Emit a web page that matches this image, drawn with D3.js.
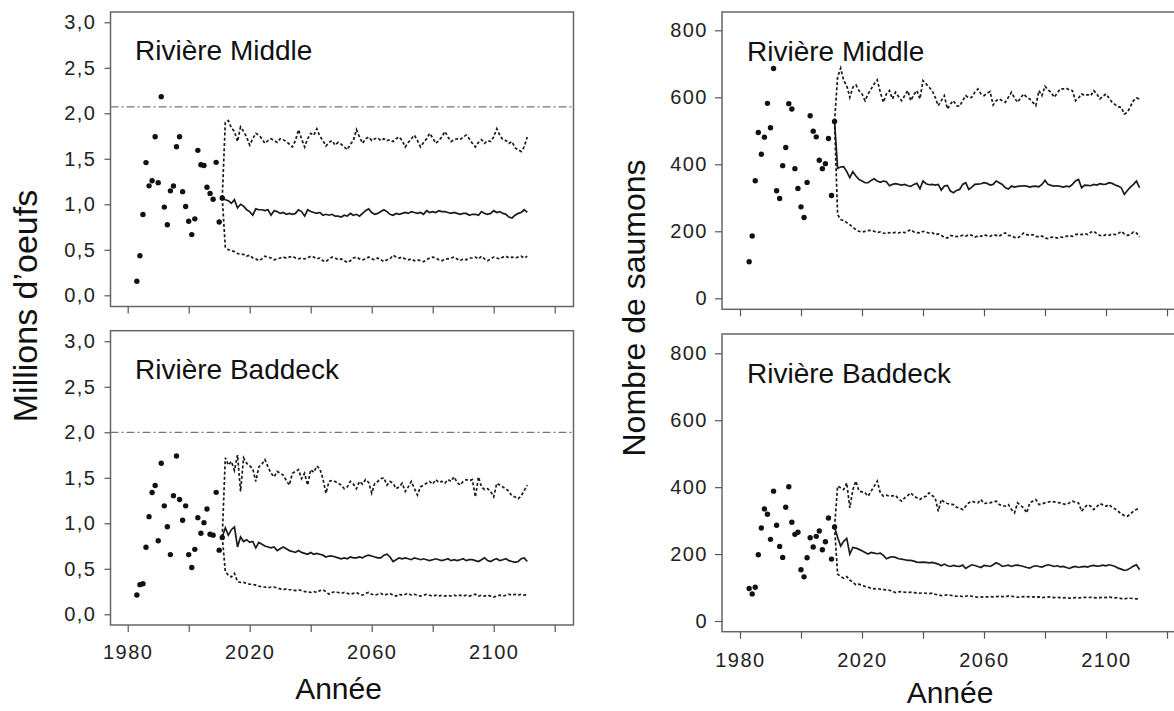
<!DOCTYPE html>
<html><head><meta charset="utf-8">
<script src="https://cdn.jsdelivr.net/npm/d3@7"></script>
<style>
body{margin:0;background:#fff}
svg{display:block;background:#fff}
.tick text{font-family:"Liberation Sans Narrow","Arial Narrow","Liberation Sans",Arial,sans-serif;font-size:20px;fill:#222;letter-spacing:1.5px}
.tick line{stroke:#555;stroke-width:1.2}
.ptitle{font-family:"Liberation Sans",Arial,sans-serif;font-size:28px;fill:#111}
.atitle{font-family:"Liberation Sans",Arial,sans-serif;font-size:30px;fill:#111}
</style></head><body>
<svg id="c" width="1174" height="711"></svg>
<script>
// ---------------- data ----------------
const obsStartYear = 1983;
const projStartYear = 2011;
const xTickValues = [1980, 2000, 2020, 2040, 2060, 2080, 2100, 2120];
const xTickLabels = ["1980", "", "2020", "", "2060", "", "2100", ""];
const eggTicks = [0, 0.5, 1, 1.5, 2, 2.5, 3];
const countTicks = [0, 200, 400, 600, 800];
const panelTitles = ["Rivière Middle", "Rivière Baddeck", "Rivière Middle", "Rivière Baddeck"];
const xTitle = "Année";
const yTitleEggs = "Millions d’oeufs";
const yTitleCounts = "Nombre de saumons";

const middleEggsRef = 2.07;
const baddeckEggsRef = 2.0;

// observed (1983-2011)
const middleEggsObs = [0.155,0.434,0.888,1.458,1.203,1.258,1.742,1.236,2.183,0.969,0.775,1.148,1.201,1.632,1.742,1.139,0.976,0.813,0.667,0.840,1.593,1.435,1.426,1.188,1.120,1.055,1.461,0.806,1.070];
const baddeckEggsObs = [0.212,0.326,0.336,0.736,1.073,1.339,1.415,0.808,1.660,1.192,0.962,0.656,1.304,1.740,1.262,1.033,1.192,0.656,0.514,0.714,1.062,0.890,1.007,1.157,0.880,0.870,1.340,0.705,0.844];
const middleCountObs = [109,186,351,495,430,481,582,509,686,321,298,396,450,581,565,387,328,273,241,346,545,499,482,412,387,402,477,307,528];
const baddeckCountObs = [97,81,101,198,278,335,319,244,388,286,223,190,340,401,295,259,265,153,132,189,249,221,253,269,213,237,308,185,281];

// projections (2011-2111)
const middleEggsMed = [1.07,1.05,1.04,1.01,1.05,0.96,1.00,0.98,0.94,0.92,
 0.88,0.95,0.94,0.94,0.93,0.94,0.88,0.93,0.92,0.90,
 0.91,0.89,0.90,0.89,0.90,0.94,0.92,0.87,0.94,0.92,
 0.91,0.90,0.91,0.88,0.89,0.88,0.89,0.87,0.87,0.86,
 0.88,0.87,0.90,0.88,0.89,0.87,0.90,0.93,0.95,0.91,
 0.89,0.90,0.92,0.94,0.92,0.89,0.88,0.90,0.89,0.90,
 0.91,0.90,0.92,0.91,0.90,0.91,0.89,0.93,0.91,0.92,
 0.91,0.93,0.92,0.92,0.91,0.90,0.91,0.90,0.89,0.90,
 0.90,0.88,0.89,0.89,0.88,0.92,0.90,0.89,0.90,0.93,
 0.91,0.92,0.90,0.89,0.86,0.85,0.88,0.90,0.91,0.94,
 0.91];
const middleEggsHigh = [1.07,1.90,1.92,1.84,1.80,1.69,1.85,1.80,1.74,1.65,
 1.72,1.78,1.76,1.72,1.67,1.70,1.72,1.70,1.68,1.72,
 1.71,1.69,1.66,1.63,1.70,1.82,1.72,1.63,1.72,1.78,
 1.76,1.83,1.75,1.70,1.64,1.68,1.70,1.65,1.68,1.66,
 1.63,1.60,1.66,1.70,1.82,1.74,1.67,1.72,1.74,1.70,
 1.72,1.73,1.70,1.72,1.70,1.71,1.69,1.72,1.74,1.70,
 1.63,1.68,1.72,1.76,1.70,1.63,1.68,1.72,1.78,1.73,
 1.67,1.70,1.74,1.80,1.74,1.69,1.71,1.72,1.71,1.74,
 1.76,1.72,1.67,1.63,1.68,1.71,1.67,1.70,1.69,1.74,
 1.83,1.76,1.71,1.70,1.67,1.69,1.62,1.60,1.58,1.63,
 1.74];
const middleEggsLow = [1.07,0.53,0.50,0.49,0.48,0.46,0.45,0.45,0.43,0.44,
 0.41,0.40,0.38,0.40,0.43,0.42,0.41,0.39,0.40,0.41,
 0.42,0.41,0.42,0.43,0.41,0.40,0.41,0.40,0.41,0.43,
 0.42,0.40,0.41,0.38,0.37,0.40,0.42,0.41,0.39,0.40,
 0.38,0.36,0.38,0.41,0.42,0.40,0.39,0.40,0.42,0.40,
 0.39,0.41,0.39,0.37,0.39,0.40,0.44,0.42,0.41,0.42,
 0.40,0.39,0.40,0.38,0.39,0.38,0.37,0.39,0.41,0.42,
 0.41,0.39,0.38,0.40,0.40,0.41,0.42,0.40,0.38,0.40,
 0.39,0.41,0.41,0.42,0.40,0.43,0.40,0.38,0.40,0.42,
 0.41,0.40,0.42,0.43,0.41,0.42,0.41,0.42,0.43,0.41,
 0.43];

const baddeckEggsMed = [0.85,0.95,0.87,0.93,0.96,0.74,0.85,0.80,0.82,0.79,
 0.80,0.73,0.79,0.77,0.75,0.74,0.73,0.74,0.70,0.72,
 0.74,0.72,0.70,0.69,0.68,0.70,0.68,0.67,0.66,0.68,
 0.66,0.67,0.66,0.65,0.63,0.64,0.64,0.63,0.62,0.61,
 0.62,0.61,0.63,0.62,0.62,0.63,0.62,0.64,0.65,0.64,
 0.63,0.62,0.62,0.65,0.66,0.63,0.58,0.60,0.62,0.61,
 0.62,0.61,0.60,0.62,0.61,0.60,0.61,0.60,0.59,0.60,
 0.61,0.60,0.59,0.60,0.61,0.59,0.60,0.59,0.60,0.61,
 0.59,0.60,0.60,0.59,0.58,0.60,0.62,0.59,0.58,0.60,
 0.61,0.59,0.60,0.61,0.59,0.58,0.57,0.58,0.61,0.62,
 0.58];
const baddeckEggsHigh = [0.85,1.72,1.64,1.68,1.58,1.75,1.35,1.72,1.66,1.63,
 1.60,1.46,1.62,1.65,1.70,1.62,1.55,1.51,1.57,1.55,
 1.53,1.47,1.42,1.55,1.57,1.59,1.49,1.55,1.42,1.59,
 1.56,1.63,1.60,1.49,1.33,1.46,1.47,1.46,1.44,1.42,
 1.38,1.40,1.46,1.43,1.38,1.46,1.43,1.48,1.45,1.33,
 1.44,1.46,1.49,1.50,1.42,1.46,1.44,1.38,1.40,1.44,
 1.35,1.40,1.46,1.38,1.31,1.40,1.42,1.44,1.46,1.43,
 1.48,1.45,1.46,1.44,1.48,1.46,1.51,1.45,1.42,1.46,
 1.48,1.47,1.48,1.29,1.51,1.40,1.37,1.38,1.35,1.29,
 1.44,1.42,1.40,1.38,1.35,1.30,1.29,1.27,1.30,1.36,
 1.42];
const baddeckEggsLow = [0.85,0.47,0.43,0.41,0.45,0.36,0.35,0.35,0.34,0.33,
 0.33,0.32,0.31,0.30,0.30,0.29,0.30,0.30,0.29,0.28,
 0.27,0.28,0.27,0.27,0.26,0.27,0.26,0.25,0.25,0.24,
 0.25,0.24,0.26,0.27,0.25,0.22,0.24,0.25,0.24,0.23,
 0.24,0.23,0.22,0.23,0.24,0.22,0.21,0.23,0.24,0.22,
 0.21,0.22,0.23,0.21,0.22,0.23,0.21,0.20,0.22,0.21,
 0.22,0.23,0.21,0.22,0.21,0.20,0.21,0.22,0.21,0.20,
 0.21,0.20,0.21,0.20,0.21,0.20,0.21,0.20,0.21,0.20,
 0.21,0.20,0.21,0.22,0.20,0.21,0.20,0.21,0.20,0.19,
 0.20,0.21,0.20,0.21,0.22,0.21,0.22,0.21,0.22,0.21,
 0.22];

const middleCountMed = [528,388,392,393,378,360,378,365,355,350,
 345,345,352,357,350,346,350,348,336,340,
 342,340,338,340,336,334,340,343,327,350,
 342,339,340,338,340,323,335,337,320,315,
 322,325,340,345,325,332,340,341,342,345,
 343,338,340,350,345,340,330,326,335,332,
 334,335,336,335,332,334,335,333,340,352,
 340,337,335,336,334,332,335,333,340,350,
 355,330,338,337,336,340,338,342,340,341,
 345,343,338,335,330,310,322,332,340,350,
 330];
const middleCountHigh = [528,660,687,650,635,600,630,637,620,610,
 590,610,625,640,652,615,585,610,620,595,
 615,602,590,605,620,590,608,620,595,650,
 640,630,620,600,575,590,605,565,580,590,
 575,573,590,605,598,600,615,625,610,605,
 612,617,577,590,595,590,585,600,615,598,
 585,598,610,600,595,585,575,620,605,633,
 622,615,600,612,625,625,627,622,620,590,
 598,610,605,608,605,620,610,595,603,610,
 598,585,578,572,570,550,555,572,590,598,
 595];
const middleCountLow = [528,250,235,232,226,220,212,205,200,198,
 200,202,203,200,196,198,195,193,196,195,
 197,195,198,196,200,205,198,196,195,200,
 197,195,196,190,192,188,182,180,187,186,
 184,186,188,185,190,188,183,186,185,190,
 187,185,190,188,185,192,195,188,187,182,
 180,186,195,190,188,190,185,183,186,180,
 178,182,183,180,183,182,185,187,185,190,
 192,190,193,190,197,200,192,188,186,190,
 188,192,190,193,200,192,188,190,198,195,
 183];

const baddeckCountMed = [281,250,224,238,247,200,220,218,214,210,
 205,200,205,203,201,203,196,186,190,192,
 190,186,185,183,181,181,179,176,175,176,
 175,174,175,173,170,165,170,165,163,166,
 164,163,167,157,163,168,166,163,160,166,
 165,163,168,174,170,163,165,167,163,166,
 167,165,163,160,158,163,165,163,161,165,
 168,166,163,165,162,163,160,157,161,163,
 160,162,163,161,165,166,164,165,167,165,
 168,166,163,158,155,151,153,158,164,168,
 153];
const baddeckCountHigh = [281,403,398,393,413,338,392,418,388,386,
 383,373,388,403,418,383,373,376,373,374,
 375,365,358,368,375,383,373,368,363,370,
 373,383,375,368,328,363,355,351,349,348,
 340,338,333,343,353,358,355,353,363,351,
 352,353,356,358,348,345,343,348,333,323,
 353,345,338,323,353,358,363,348,350,353,
 355,358,356,354,353,350,348,353,358,355,
 353,328,340,348,343,333,342,351,347,343,
 348,340,335,328,320,315,313,320,328,333,
 338];
const baddeckCountLow = [281,140,133,128,133,122,116,108,110,107,
 103,101,98,96,97,95,94,93,92,88,
 85,87,88,86,85,86,85,84,83,84,
 83,82,83,80,78,76,77,78,77,75,
 74,75,73,74,76,74,72,71,72,71,
 72,73,72,73,74,73,72,75,74,73,
 71,72,73,72,73,72,71,72,70,71,
 72,71,70,71,70,69,70,68,69,70,
 69,70,71,70,71,70,69,70,71,70,
 72,70,69,70,67,66,68,68,67,66,
 66];

// ---------------- drawing ----------------
const svg = d3.select("#c");
const fmtEgg = v => d3.format(".1f")(v).replace(".", ",");
const fmtCount = d3.format("d");

const panels = [
  {title: panelTitles[0], obs: middleEggsObs, med: middleEggsMed, hi: middleEggsHigh, lo: middleEggsLow, ref: middleEggsRef,
   frameL: 110.5, frameT: 12, frameB: 306.5, x1980: 127.7, yZero: 295.3, yTopPx: 22.3, yTopVal: 3, ticks: eggTicks, fmt: fmtEgg,
   showX: false, tx: 135, ty: 60, ySize: 6, yPad: 8, xPad: 13, titleDy: 0},
  {title: panelTitles[1], obs: baddeckEggsObs, med: baddeckEggsMed, hi: baddeckEggsHigh, lo: baddeckEggsLow, ref: baddeckEggsRef,
   frameL: 110.5, frameT: 330.7, frameB: 625, x1980: 127.7, yZero: 614.3, yTopPx: 341.3, yTopVal: 3, ticks: eggTicks, fmt: fmtEgg,
   showX: true, tx: 135, ty: 379, ySize: 6, yPad: 8, xPad: 13, titleDy: 74},
  {title: panelTitles[2], obs: middleCountObs, med: middleCountMed, hi: middleCountHigh, lo: middleCountLow, ref: null,
   frameL: 722, frameT: 12, frameB: 309.3, x1980: 740, yZero: 298.3, yTopPx: 30.3, yTopVal: 800, ticks: countTicks, fmt: fmtCount,
   showX: false, tx: 747, ty: 61, ySize: 7, yPad: 7, xPad: 14, titleDy: 0},
  {title: panelTitles[3], obs: baddeckCountObs, med: baddeckCountMed, hi: baddeckCountHigh, lo: baddeckCountLow, ref: null,
   frameL: 722, frameT: 334, frameB: 631.7, x1980: 740, yZero: 621, yTopPx: 353.3, yTopVal: 800, ticks: countTicks, fmt: fmtCount,
   showX: true, tx: 747, ty: 383, ySize: 7, yPad: 7, xPad: 14, titleDy: 71}
];

const pxPerYear = 3.05;
const frameW = 463;

panels.forEach(p => {
  const g = svg.append("g");
  const x = d3.scaleLinear().domain([1980, 2100]).range([p.x1980, p.x1980 + 120 * pxPerYear]);
  const y = d3.scaleLinear().domain([0, p.yTopVal]).range([p.yZero, p.yTopPx]);

  g.append("rect").attr("x", p.frameL).attr("y", p.frameT)
    .attr("width", frameW).attr("height", p.frameB - p.frameT)
    .attr("fill", "none").attr("stroke", "#666").attr("stroke-width", 1.5);

  const ya = g.append("g").attr("transform", `translate(${p.frameL},0)`)
    .call(d3.axisLeft(y).tickValues(p.ticks).tickSize(p.ySize).tickPadding(p.yPad).tickFormat(p.fmt));
  ya.select(".domain").remove();

  const xa = g.append("g").attr("transform", `translate(0,${p.frameB})`)
    .call(d3.axisBottom(x).tickValues(xTickValues).tickSize(7).tickPadding(p.xPad)
      .tickFormat((d, i) => p.showX ? xTickLabels[i] : ""));
  xa.select(".domain").remove();

  if (p.ref !== null) {
    g.append("line").attr("x1", p.frameL).attr("x2", p.frameL + frameW)
      .attr("y1", y(p.ref)).attr("y2", y(p.ref))
      .attr("stroke", "#777").attr("stroke-width", 1.2).attr("stroke-dasharray", "8,3,2,3");
  }

  const line = d3.line().x(d => x(d.year)).y(d => y(d.v));
  const toPts = arr => arr.map((v, i) => ({year: projStartYear + i, v}));

  [p.hi, p.lo].forEach(arr => {
    g.append("path").datum(toPts(arr)).attr("d", line)
      .attr("fill", "none").attr("stroke", "#1a1a1a").attr("stroke-width", 1.7).attr("stroke-dasharray", "3,2.2");
  });
  g.append("path").datum(toPts(p.med)).attr("d", line)
    .attr("fill", "none").attr("stroke", "#1a1a1a").attr("stroke-width", 1.7);

  g.selectAll("circle.obs").data(p.obs.map((v, i) => ({year: obsStartYear + i, v})))
    .enter().append("circle").attr("class", "obs")
    .attr("cx", d => x(d.year)).attr("cy", d => y(d.v)).attr("r", 2.7).attr("fill", "#111");

  g.append("text").attr("class", "ptitle").attr("x", p.tx).attr("y", p.ty).text(p.title);

  if (p.showX) {
    g.append("text").attr("class", "atitle").attr("text-anchor", "middle")
      .attr("x", p.frameL + 228).attr("y", p.frameB + p.titleDy).text(xTitle);
  }
});

svg.append("text").attr("class", "atitle").attr("text-anchor", "middle")
  .attr("transform", "translate(37,306) rotate(-90)").style("font-size", "34px").text(yTitleEggs);
svg.append("text").attr("class", "atitle").attr("text-anchor", "middle")
  .attr("transform", "translate(645,308) rotate(-90)").style("font-size", "32px").text(yTitleCounts);
</script>
</body></html>
